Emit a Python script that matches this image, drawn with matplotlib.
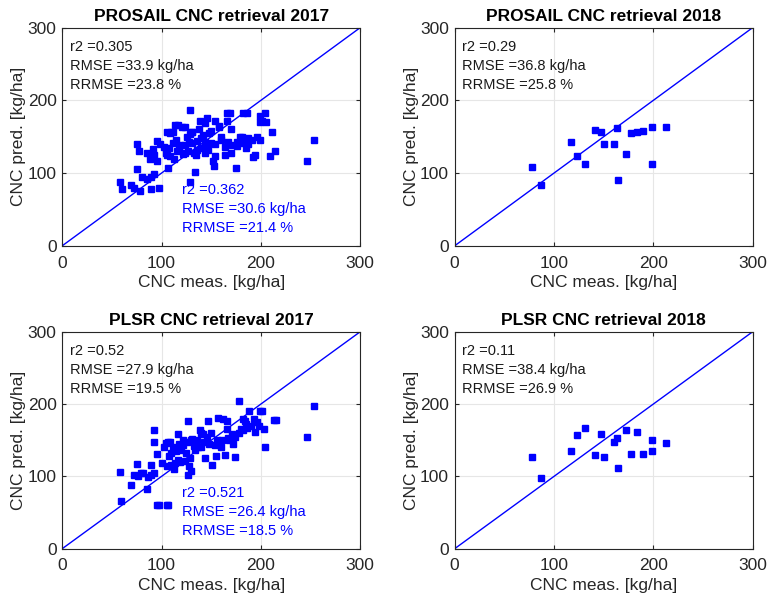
import matplotlib
matplotlib.use("Agg")
import matplotlib.pyplot as plt

plt.rcParams['font.family'] = ['Liberation Sans', 'DejaVu Sans']

# PROSAIL 2017 (measured, predicted)
pro17_x = [129, 166, 169, 182, 186, 199, 201, 204, 199, 139, 146, 144, 154, 158, 158, 166,
           110, 117, 124, 131, 114, 121, 109, 112, 129, 131, 106, 75, 77, 95, 85, 91, 92, 88,
           95, 106, 109, 75, 58, 60, 69, 72, 78, 89, 97, 80, 85, 89, 92, 107, 104, 108, 112,
           116, 119, 124, 128, 131, 136, 140, 144, 146, 150, 154, 164, 167, 171, 176, 179, 183,
           187, 176, 182, 144, 147, 133, 136, 124, 127, 154, 152, 134, 129, 153, 164, 175, 194,
           192, 209, 214, 211, 199, 253, 246, 187, 191, 138, 142, 118, 122, 160, 170, 150, 185,
           196, 115, 102, 126, 140, 160, 181, 113, 98, 148, 170, 205, 135]
pro17_y = [187, 183, 182, 182, 183, 178, 171, 183, 170, 172, 176, 169, 171, 165, 164, 172,
           157, 166, 164, 157, 166, 164, 155, 157, 154, 157, 156, 140, 131, 144, 128, 133, 125, 120,
           117, 125, 124, 106, 88, 78, 83, 80, 75, 78, 79, 94, 92, 94, 99, 107, 128, 135, 142,
           130, 138, 139, 143, 141, 144, 148, 143, 137, 142, 140, 136, 143, 139, 143, 150, 145,
           148, 137, 141, 128, 132, 128, 132, 128, 131, 123, 116, 102, 88, 110, 125, 107, 125,
           122, 123, 131, 156, 146, 146, 116, 140, 146, 160, 152, 133, 126, 150, 160, 158, 135,
           150, 146, 136, 150, 135, 145, 150, 120, 140, 155, 128, 170, 125]

# PLSR 2017 (measured, predicted)
pls17_x = [92, 92, 102, 107, 95, 75, 89, 105, 58, 72, 76, 79, 81, 86, 89, 92, 69, 85, 59,
           95, 97, 106, 178, 201, 188, 182, 184, 157, 162, 166, 147, 127, 139, 142, 146, 140,
           117, 104, 109, 122, 126, 130, 154, 158, 161, 167, 171, 174, 182, 186, 194, 198, 203,
           110, 115, 120, 134, 137, 124, 129, 110, 114, 117, 119, 127, 130, 128, 144, 155, 164,
           174, 151, 204, 107, 253, 246, 213, 215, 199, 112, 118, 122, 133, 143, 150, 168, 178,
           190, 196, 108, 125, 136, 148, 156, 160, 172, 185, 100, 113, 131, 140, 166, 180, 193]
pls17_y = [164, 148, 141, 148, 131, 117, 116, 115, 106, 102, 101, 104, 105, 99, 102, 104, 88,
           82, 66, 60, 61, 61, 204, 191, 190, 180, 177, 181, 180, 176, 176, 176, 164, 158, 155,
           160, 158, 146, 148, 143, 147, 151, 143, 147, 151, 153, 158, 155, 164, 167, 162, 169,
           165, 132, 135, 137, 137, 140, 121, 126, 116, 119, 123, 120, 102, 108, 114, 125, 128,
           130, 127, 116, 141, 61, 197, 155, 178, 178, 191, 140, 145, 150, 142, 148, 160, 150,
           160, 170, 175, 128, 132, 150, 145, 150, 140, 145, 172, 118, 110, 152, 140, 165, 165,
           180]

# 2018 (same measured values in both panels)
meas18 = [77.5, 86.5, 117, 123, 131, 141, 147.5, 150, 160, 163, 164, 172, 177.5, 183.5,
          189.6, 199, 198.6, 213]
pro18_y = [109, 83, 143, 123, 113, 159, 157, 140, 140, 162, 90, 126, 155.5, 156.5, 158,
           163, 113, 163]
pls18_x = [77.5, 86.5, 117, 123, 131, 141, 147.5, 150, 160, 163, 164, 172, 177.5, 183.5,
           189.6, 199, 198.6, 213]
pls18_y = [127, 98, 135, 157, 167, 129.5, 158.5, 127, 147.5, 153, 111.5, 164, 131, 162,
           131, 150, 135, 146]

titles = ['PROSAIL CNC retrieval 2017', 'PROSAIL CNC retrieval 2018',
          'PLSR CNC retrieval 2017', 'PLSR CNC retrieval 2018']
stats_all = [['r2 =0.305', 'RMSE =33.9 kg/ha', 'RRMSE =23.8 %'],
             ['r2 =0.29', 'RMSE =36.8 kg/ha', 'RRMSE =25.8 %'],
             ['r2 =0.52', 'RMSE =27.9 kg/ha', 'RRMSE =19.5 %'],
             ['r2 =0.11', 'RMSE =38.4 kg/ha', 'RRMSE =26.9 %']]
stats_sub = [['r2 =0.362', 'RMSE =30.6 kg/ha', 'RRMSE =21.4 %'], None,
             ['r2 =0.521', 'RMSE =26.4 kg/ha', 'RRMSE =18.5 %'], None]
xs = [pro17_x, meas18, pls17_x, pls18_x]
ys = [pro17_y, pro18_y, pls17_y, pls18_y]

fig = plt.figure(figsize=(7.68, 6.01), dpi=100)
pos = [[0.081, 0.591, 0.388, 0.363], [0.592, 0.591, 0.388, 0.363],
       [0.081, 0.087, 0.388, 0.361], [0.592, 0.087, 0.388, 0.361]]

blue = '#0000ff'
for i in range(4):
    ax = fig.add_axes(pos[i])
    ax.plot([0, 300], [0, 300], color=blue, lw=1, zorder=2)
    ax.plot(xs[i], ys[i], 's', color=blue, ms=3.8, zorder=3)
    ax.set_xlim(0, 300)
    ax.set_ylim(0, 300)
    ax.set_xticks([0, 100, 200, 300])
    ax.set_yticks([0, 100, 200, 300])
    ax.grid(True, color='#e6e6e6', lw=0.8)
    ax.set_axisbelow(True)
    ax.tick_params(direction='in', length=3, labelsize=12.5, colors='#262626',
                   top=True, right=True)
    ax.tick_params(axis='x', pad=7)
    ax.tick_params(axis='y', pad=4)
    for s in ax.spines.values():
        s.set_color('#262626')
        s.set_linewidth(0.8)
    ax.set_title(titles[i], fontsize=12.5, fontweight='bold', pad=5)
    ax.set_xlabel('CNC meas. [kg/ha]', fontsize=12.5, color='#262626', labelpad=3)
    ax.set_ylabel('CNC pred. [kg/ha]', fontsize=12.5, color='#262626', labelpad=1)
    for k, t in enumerate(stats_all[i]):
        ax.text(0.025, 0.91 - k * 0.087, t, transform=ax.transAxes, fontsize=10.5,
                color='#1a1a1a', va='center')
    if stats_sub[i]:
        for k, t in enumerate(stats_sub[i]):
            ax.text(0.403, 0.257 - k * 0.087, t, transform=ax.transAxes, fontsize=10.5,
                    color=blue, va='center')

fig.savefig('out.png', dpi=100)
